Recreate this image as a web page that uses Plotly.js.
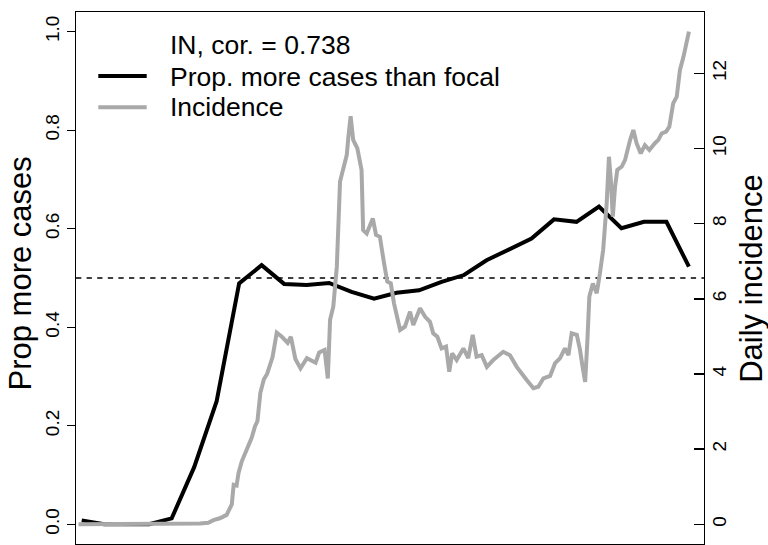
<!DOCTYPE html>
<html>
<head>
<meta charset="utf-8">
<script src="https://cdn.plot.ly/plotly-3.0.1.min.js"></script>
<style>html,body{margin:0;padding:0;background:#fff;}#chart{width:768px;height:545px;}</style>
</head>
<body>
<div id="chart"></div>
<script>
// Weekly proportion of places with more cases than the focal one (left axis)
var propDay = [1,8,15,22,29,36,43,50,57,64,71,78,85,92,99,106,113,120,127,134,141,148,155,162,169,176,183,190];
var propValue = [0.008,0.000,0.000,0.000,0.012,0.116,0.250,0.489,0.526,0.488,0.486,0.490,0.472,0.458,0.470,0.475,0.492,0.506,0.536,0.558,0.580,0.619,0.614,0.645,0.601,0.614,0.614,0.523];

// Daily incidence (right axis)
var incDay = [0,22.3,37.8,40.4,42.0,44.0,46.1,47.7,48.3,49.2,
  49.8,50.8,52.4,53.9,54.9,55.7,56.6,57.7,58.7,59.5,
  60.4,61.7,63.3,65.1,66.1,67.5,69.1,71.1,72.7,73.8,
  74.9,76.6,77.6,78.3,79.3,80.4,81.4,82.4,83.5,84.0,
  84.7,85.5,86.8,88.1,88.6,89.7,91.6,92.6,93.8,95.1,
  96.1,97.2,98.2,100.1,101.6,103.2,104.2,106.3,107.9,109.4,
  110.4,111.7,113.0,114.4,115.4,116.3,117.7,119.8,121.3,122.7,
  123.9,125.5,127.1,129.1,132.2,134.3,136.4,139.5,141.6,143.1,
  144.7,146.8,148.3,149.9,151.4,152.5,153.5,155.1,156.1,156.9,
  157.7,158.4,159.0,160.1,161.3,162.3,163.3,164.4,165.1,165.7,
  166.3,167.0,167.7,169.1,170.1,171.7,172.7,173.7,175.0,176.3,
  177.7,179.4,180.5,181.5,182.9,183.9,185.1,186.2,187.2,188.3,
  189.3,190.0];
var incValue = [0.00,0.00,0.02,0.04,0.11,0.16,0.25,0.53,1.05,1.03,
  1.36,1.67,1.98,2.30,2.60,2.75,3.50,3.86,4.00,4.19,
  4.45,5.10,4.99,4.83,4.99,4.40,4.15,4.42,4.35,4.30,
  4.57,4.64,3.88,5.44,5.79,6.85,9.12,9.43,9.83,10.31,
  10.86,10.23,10.00,9.43,7.83,7.74,8.14,7.70,7.65,6.95,
  6.46,6.41,5.88,5.17,5.26,5.66,5.30,5.75,5.52,5.39,
  5.08,4.99,4.68,4.73,4.06,4.55,4.37,4.68,4.42,5.04,
  4.46,4.50,4.19,4.37,4.59,4.50,4.19,3.84,3.62,3.66,
  3.88,3.95,4.28,4.42,4.68,4.50,5.08,5.04,4.64,4.19,
  3.79,4.90,6.06,6.41,6.15,6.68,7.30,8.54,9.78,9.16,
  8.19,8.98,9.43,9.52,9.69,10.23,10.49,10.14,9.87,10.09,
  9.96,10.14,10.23,10.40,10.45,10.58,11.20,11.38,12.09,12.44,
  12.89,13.11];

var leftTicks = [0, 0.2, 0.4, 0.6, 0.8, 1.0];
var leftTickText = ['0.0', '0.2', '0.4', '0.6', '0.8', '1.0'];
var rightTicks = [0, 2, 4, 6, 8, 10, 12];
var rightTickText = ['0', '2', '4', '6', '8', '10', '12'];

var legendTitle = 'IN, cor. = 0.738';
var seriesNames = ['Prop. more cases than focal', 'Incidence'];
var axisTitles = ['Prop more cases', 'Daily incidence'];
var refLine = 0.5;

var FONT = '"Liberation Sans", Arial, Helvetica, sans-serif';
var GRAY = '#a9a9a9';

var traces = [
  {x: propDay, y: propValue, type: 'scatter', mode: 'lines', name: seriesNames[0],
   line: {color: '#000000', width: 4}, yaxis: 'y', hoverinfo: 'skip'},
  {x: incDay, y: incValue, type: 'scatter', mode: 'lines', name: seriesNames[1],
   line: {color: GRAY, width: 4}, yaxis: 'y2', hoverinfo: 'skip'}
];

var layout = {
  width: 768, height: 545, autosize: false,
  margin: {l: 76, r: 64, t: 12, b: 1, pad: 0},
  paper_bgcolor: '#ffffff', plot_bgcolor: '#ffffff',
  showlegend: false,
  font: {family: FONT, color: '#000000'},
  xaxis: {
    range: [-0.78, 194.69], showgrid: false, zeroline: false,
    showticklabels: false, ticks: '',
    showline: true, mirror: true, linecolor: '#000000', linewidth: 1.4
  },
  yaxis: {
    range: [-0.04, 1.04], showgrid: false, zeroline: false,
    tickmode: 'array', tickvals: leftTicks, ticktext: leftTickText,
    ticks: 'outside', ticklen: 8, tickwidth: 1.4, tickcolor: '#000000',
    tickangle: -90,
    tickfont: {family: FONT, size: 19, color: '#000000'},
    showline: true, mirror: true, linecolor: '#000000', linewidth: 1.4
  },
  yaxis2: {
    overlaying: 'y', side: 'right',
    range: [-0.524, 13.632], showgrid: false, zeroline: false,
    tickmode: 'array', tickvals: rightTicks, ticktext: rightTickText,
    ticks: 'inside', ticklen: 10, tickwidth: 1.4, tickcolor: '#000000',
    tickangle: -90, ticklabelstandoff: 2,
    tickfont: {family: FONT, size: 19, color: '#000000'},
    showline: false
  },
  shapes: [
    {type: 'line', xref: 'paper', x0: 0, x1: 1, yref: 'y', y0: refLine, y1: refLine,
     line: {color: '#000000', width: 1.4, dash: '5.3px,5.3px'}, layer: 'below'},
    {type: 'line', xref: 'paper', x0: 0.0355, x1: 0.1126, yref: 'paper', y0: 0.8797, y1: 0.8797,
     line: {color: '#000000', width: 4}},
    {type: 'line', xref: 'paper', x0: 0.0355, x1: 0.1126, yref: 'paper', y0: 0.8209, y1: 0.8209,
     line: {color: GRAY, width: 4}}
  ],
  annotations: [
    {text: legendTitle, xref: 'paper', yref: 'paper', x: 0.1489, y: 0.9380,
     xanchor: 'left', yanchor: 'middle', showarrow: false, borderpad: 0, borderwidth: 0,
     font: {family: FONT, size: 26.5, color: '#000000'}},
    {text: seriesNames[0], xref: 'paper', yref: 'paper', x: 0.1489, y: 0.8784,
     xanchor: 'left', yanchor: 'middle', showarrow: false, borderpad: 0, borderwidth: 0,
     font: {family: FONT, size: 26.5, color: '#000000'}},
    {text: seriesNames[1], xref: 'paper', yref: 'paper', x: 0.1489, y: 0.8209,
     xanchor: 'left', yanchor: 'middle', showarrow: false, borderpad: 0, borderwidth: 0,
     font: {family: FONT, size: 26.5, color: '#000000'}},
    {text: axisTitles[0], xref: 'paper', yref: 'paper', x: -0.0868, y: 0.5094,
     xanchor: 'center', yanchor: 'middle', textangle: -90, showarrow: false, borderpad: 0, borderwidth: 0,
     font: {family: FONT, size: 31, color: '#000000'}},
    {text: axisTitles[1], xref: 'paper', yref: 'paper', x: 1.0745, y: 0.5,
     xanchor: 'center', yanchor: 'middle', textangle: -90, showarrow: false, borderpad: 0, borderwidth: 0,
     font: {family: FONT, size: 31, color: '#000000'}}
  ]
};

Plotly.newPlot('chart', traces, layout, {staticPlot: true, displayModeBar: false});
</script>
</body>
</html>
